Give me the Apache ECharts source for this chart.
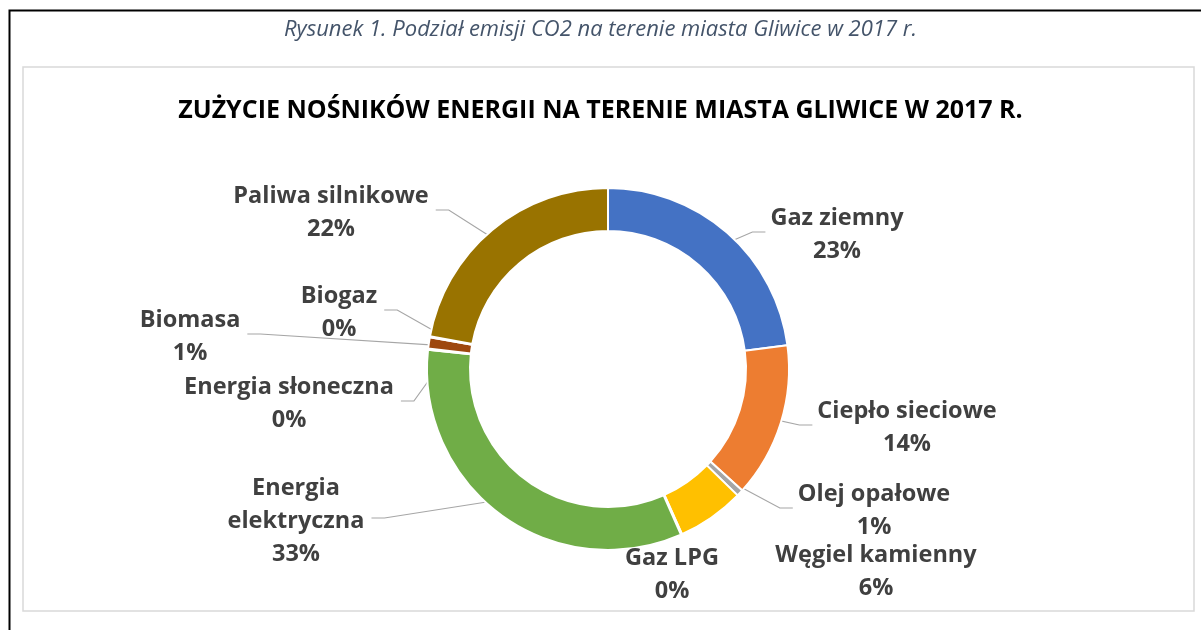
<!DOCTYPE html>
<html>
<head>
<meta charset="utf-8">
<script src="https://cdn.jsdelivr.net/npm/echarts@6/dist/echarts.min.js"></script>
<style>
  html, body { margin: 0; padding: 0; background: #fff; }
  #main { width: 1201px; height: 630px; }
</style>
</head>
<body>
<div id="main"></div>
<script>
// dane
var categories = ['Gaz ziemny', 'Ciepło sieciowe', 'Olej opałowe', 'Węgiel kamienny', 'Gaz LPG',
  'Energia elektryczna', 'Energia słoneczna', 'Biomasa', 'Biogaz', 'Paliwa silnikowe'];
var values = [22.9, 13.8, 0.6, 6.0, 0.1, 33.3, 0.1, 1.0, 0.1, 22.1];
var colors = ['#4472C4', '#ED7D31', '#A5A5A5', '#FFC000', '#5B9BD5',
  '#70AD47', '#264478', '#9E480E', '#636363', '#997300'];

// polozenie etykiet (srodek bloku tekstu) i czy jest linia
var labelPos = [
  [837, 235, true], [907, 428, true], [874, 511, true], [876, 572, false], [672, 575, false],
  [296, 521, true], [289, 404, true], [190, 337, true], [339, 313, true], [331, 213, true]
];

var cx = 608, cy = 369, rIn = 138, rOut = 181;
var total = values.reduce(function (a, b) { return a + b; }, 0);

var chart = echarts.init(document.getElementById('main'));

var labelFont = 'Open Sans';

var option = {
  animation: false,
  color: colors,
  title: [
    {
      text: 'Rysunek 1. Podział emisji CO2 na terenie miasta Gliwice w 2017 r.',
      left: 'center',
      top: 14,
      textStyle: { fontFamily: labelFont, fontStyle: 'italic', fontWeight: 'normal', fontSize: 22, color: '#44546A' }
    },
    {
      text: 'ZUŻYCIE NOŚNIKÓW ENERGII NA TERENIE MIASTA GLIWICE W 2017 R.',
      left: 'center',
      top: 93,
      textStyle: { fontFamily: labelFont, fontWeight: 'bold', fontSize: 25, color: '#000' }
    }
  ],
  graphic: [
    { type: 'rect', shape: { x: 9.5, y: 10.5, width: 1220, height: 640 }, style: { fill: 'none', stroke: '#000', lineWidth: 2 } },
    { type: 'rect', shape: { x: 23, y: 67, width: 1171, height: 544 }, style: { fill: 'none', stroke: '#D9D9D9', lineWidth: 1.5 } }
  ],
  series: [{
    type: 'pie',
    center: [cx, cy],
    radius: [rIn, rOut],
    clockwise: true,
    startAngle: 90,
    avoidLabelOverlap: false,
    minShowLabelAngle: 0,
    itemStyle: { borderColor: '#fff', borderWidth: 2 },
    label: {
      show: true,
      position: 'outside',
      fontFamily: labelFont,
      fontWeight: 'bold',
      fontSize: 23.5,
      lineHeight: 33,
      color: '#404040',
      align: 'center',
      formatter: function (p) {
        var n = p.name === 'Energia elektryczna' ? 'Energia\nelektryczna' : p.name;
        return n + '\n' + Math.round(p.value / total * 100) + '%';
      }
    },
    labelLine: { show: true, lineStyle: { color: '#A6A6A6', width: 1.2 } },
    labelLayout: function (params) {
      var i = params.dataIndex;
      var pos = labelPos[i];
      var w = params.labelRect.width;
      var cum = 0;
      for (var k = 0; k < i; k++) cum += values[k];
      var ang = 2 * Math.PI * (cum + values[i] / 2) / total;
      var rMid = (rIn + rOut) / 2;
      var p0 = [cx + rMid * Math.sin(ang), cy - rMid * Math.cos(ang)];
      var isRight = pos[0] > cx;
      var ly = pos[1] - 3;
      var endX = isRight ? pos[0] - w / 2 - 5 : pos[0] + w / 2 + 7;
      var elbowX = isRight ? endX - 13 : endX + 13;
      var res = {
        x: pos[0],
        y: pos[1],
        align: 'center',
        verticalAlign: 'middle'
      };
      if (pos[2]) {
        res.labelLinePoints = [p0, [elbowX, ly], [endX, ly]];
      } else {
        res.labelLinePoints = [p0, p0, p0];
      }
      return res;
    },
    data: categories.map(function (c, i) {
      return { name: c, value: values[i] };
    })
  }]
};

chart.setOption(option);
</script>
</body>
</html>
